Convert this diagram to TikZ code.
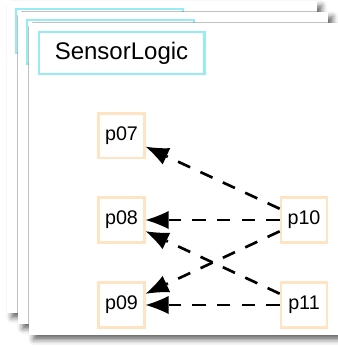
\documentclass[tikz,border=0pt]{standalone}
\usepackage{fontspec}
\setmainfont{Liberation Sans}
\usetikzlibrary{arrows.meta,shadows.blur}

\definecolor{titleline}{RGB}{150,235,245}
\definecolor{portline}{RGB}{255,228,196}

\tikzstyle{sheet} = [fill=white, blur shadow={shadow xshift=3.5pt, shadow yshift=-3.5pt, shadow blur radius=4pt, shadow opacity=60}]
\tikzstyle{title} = [draw=titleline, line width=2pt, minimum width=124pt, minimum height=31.5pt, inner sep=0pt, font=\fontsize{18}{20}\selectfont]
\tikzstyle{port} = [draw=portline, line width=2pt, minimum width=34.5pt, minimum height=33.5pt, inner sep=0pt, font=\fontsize{14.8}{17}\selectfont]
\tikzstyle{dep} = [dash pattern=on 10pt off 8.5pt, line width=2pt, -{Latex[length=17pt,width=13.5pt,fill=black,line width=0pt,sep=0pt]}]

\begin{document}
\begin{tikzpicture}[x=0.75pt, y=-0.75pt]
\useasboundingbox (0,0) rectangle (338,346);

% stacked sheets
\fill[sheet] (7,1) rectangle (317,313);
\draw[titleline, line width=2pt] (16,9) rectangle (183,53);
\fill[sheet] (18,12) rectangle (328,324);
\draw[titleline, line width=2pt] (27,20) rectangle (194,64);
\fill[sheet] (29,23) rectangle (339,335);

\node[title] (logic) at (121.5,53) {SensorLogic};

\node[port] (p07) at (121.5,135.5) {p07};
\node[port] (p08) at (121.5,220) {p08};
\node[port] (p09) at (121.5,305) {p09};
\node[port] (p10) at (304,220) {p10};
\node[port] (p11) at (304,305) {p11};

\draw[dep] (p10) -- (p07);
\draw[dep] (p10) -- (p08);
\draw[dep] (p10) -- (p09);
\draw[dep] (p11) -- (p08);
\draw[dep] (p11) -- (p09);
\end{tikzpicture}
\end{document}
